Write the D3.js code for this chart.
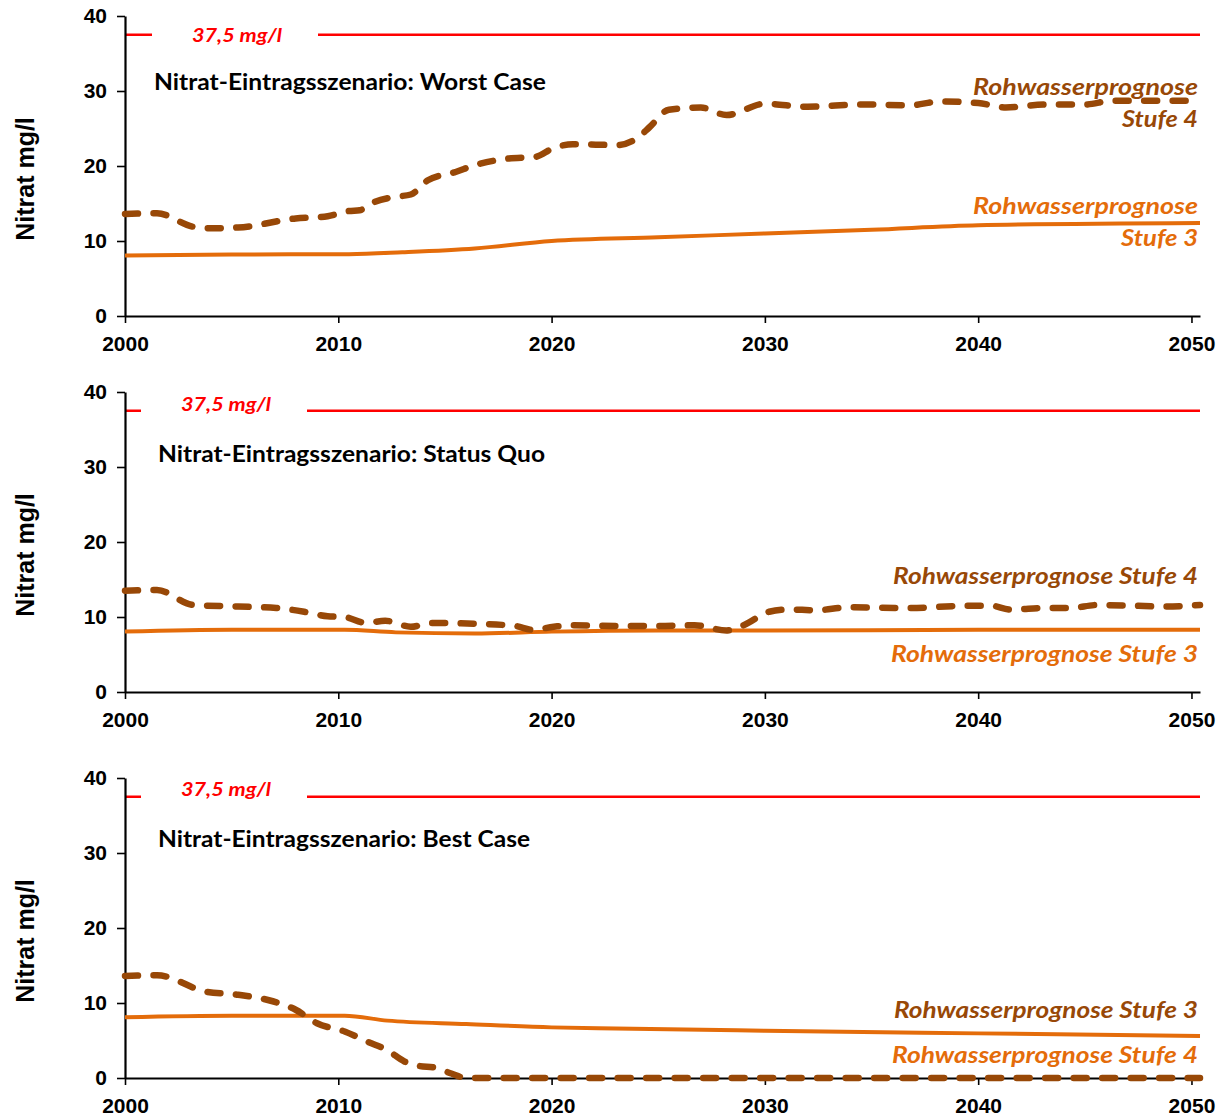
<!DOCTYPE html>
<html><head><meta charset="utf-8">
<script src="https://cdn.jsdelivr.net/npm/d3@7"></script>
<style>html,body{margin:0;padding:0;background:#fff}</style>
</head><body>
<svg id="c" width="1230" height="1120"></svg>
<script>
// ---- data ----
const xTicks = [2000, 2010, 2020, 2030, 2040, 2050];
const yTicks = [0, 10, 20, 30, 40];
const threshold = 37.5;
const thresholdLabel = "37,5 mg/l";
const yTitle = "Nitrat mg/l";
const panelTitles = ["Nitrat-Eintragsszenario: Worst Case", "Nitrat-Eintragsszenario: Status Quo", "Nitrat-Eintragsszenario: Best Case"];

const wcS4Years = [2000, 2001.5, 2003.2, 2004, 2005.3, 2008, 2009.5, 2010.5, 2011, 2011.7, 2012.7, 2013.4, 2014.2, 2015.5, 2016.4, 2018, 2019.2, 2020.1, 2021, 2023.1, 2024.1, 2024.6, 2025.5, 2027, 2028.2, 2030, 2032, 2034.6, 2036.8, 2038.2, 2040, 2041.3, 2043.2, 2045, 2046.3, 2050.4];
const wcS4Values = [13.6, 13.7, 11.9, 11.7, 11.8, 13.0, 13.3, 14.0, 14.1, 15.2, 15.9, 16.2, 18.1, 19.2, 20.1, 21.0, 21.2, 22.4, 22.9, 22.8, 23.9, 25.2, 27.5, 27.8, 26.8, 28.3, 27.9, 28.2, 28.1, 28.6, 28.4, 27.8, 28.2, 28.2, 28.7, 28.7];
const wcS3Years = [2000, 2005, 2010.5, 2013, 2016.4, 2020, 2025, 2030, 2035, 2040, 2050.4];
const wcS3Values = [8.05, 8.2, 8.25, 8.5, 9.0, 10.0, 10.5, 11.0, 11.5, 12.1, 12.4];

const sqS4Years = [2000, 2001.5, 2003.2, 2005.3, 2007.1, 2008.4, 2009.5, 2010.3, 2011.3, 2012.2, 2013.4, 2014.4, 2016.4, 2018.3, 2019.1, 2020.1, 2020.9, 2023.1, 2025, 2026.7, 2028.2, 2029, 2030.2, 2031.1, 2032.4, 2033.9, 2036.8, 2039.5, 2040.6, 2041.5, 2043.2, 2044.3, 2045.6, 2047.3, 2048.7, 2050.4];
const sqS4Values = [13.5, 13.6, 11.6, 11.4, 11.2, 10.7, 10.1, 10.0, 9.2, 9.5, 8.7, 9.2, 9.1, 8.8, 8.3, 8.7, 8.9, 8.8, 8.8, 8.9, 8.2, 8.9, 10.7, 11.0, 10.9, 11.3, 11.2, 11.5, 11.5, 11.0, 11.2, 11.2, 11.6, 11.5, 11.4, 11.6];
const sqS3Years = [2000, 2005, 2010.3, 2012.7, 2016.4, 2020, 2025, 2030, 2040, 2050.4];
const sqS3Values = [8.05, 8.3, 8.3, 7.95, 7.8, 8.05, 8.2, 8.2, 8.3, 8.3];

const bcS4Years = [2000, 2001.5, 2003.8, 2005.3, 2006.7, 2008, 2009, 2010.3, 2011.4, 2012.3, 2013.1, 2013.8, 2014.5, 2015.3, 2016, 2050.4];
const bcS4Values = [13.6, 13.7, 11.5, 11.1, 10.4, 9.1, 7.3, 6.2, 4.8, 3.7, 2.2, 1.6, 1.4, 0.6, 0, 0];
const bcS3Years = [2000, 2005, 2010.3, 2012.3, 2016, 2020, 2023, 2030, 2040, 2050.4];
const bcS3Values = [8.1, 8.3, 8.3, 7.65, 7.2, 6.75, 6.6, 6.3, 5.95, 5.6];

// ---- styles ----
const BROWN = "#984807", ORANGE = "#E46C0A", RED = "#FF0000";
const svg = d3.select("#c");
const x = d3.scaleLinear().domain([2000, 2050.4]).range([125, 1200]);
const sansBold = "'Liberation Sans', Arial, sans-serif";
const cal = "Lato, 'Open Sans', sans-serif";

const panels = [
  { top: 16, title: panelTitles[0], titleX: 154, titleBase: 90, titleW: 392,
    s4: [wcS4Years, wcS4Values], s3: [wcS3Years, wcS3Values],
    gap: [152, 318], thrLabelX: 192, thrLabelBase: 42,
    labels: [
      { t: "Rohwasserprognose", c: BROWN, y: 95, w: 225 },
      { t: "Stufe 4", c: BROWN, y: 127, w: 76 },
      { t: "Rohwasserprognose", c: ORANGE, y: 214, w: 225 },
      { t: "Stufe 3", c: ORANGE, y: 246, w: 77 } ] },
  { top: 392, title: panelTitles[1], titleX: 158, titleBase: 462, titleW: 387,
    s4: [sqS4Years, sqS4Values], s3: [sqS3Years, sqS3Values],
    gap: [141, 307], thrLabelX: 181, thrLabelBase: 411,
    labels: [
      { t: "Rohwasserprognose Stufe 4", c: BROWN, y: 584, w: 305 },
      { t: "Rohwasserprognose Stufe 3", c: ORANGE, y: 662, w: 307 } ] },
  { top: 778, title: panelTitles[2], titleX: 158, titleBase: 847, titleW: 372,
    s4: [bcS4Years, bcS4Values], s3: [bcS3Years, bcS3Values],
    gap: [141, 307], thrLabelX: 181, thrLabelBase: 796,
    labels: [
      { t: "Rohwasserprognose Stufe 3", c: BROWN, y: 1018, w: 304 },
      { t: "Rohwasserprognose Stufe 4", c: ORANGE, y: 1063, w: 306 } ] }
];

panels.forEach(p => {
  const y = d3.scaleLinear().domain([0, 40]).range([p.top + 300, p.top]);
  const g = svg.append("g");

  // threshold line with label gap
  g.append("line").attr("x1", x(2000)).attr("x2", x(2050.4))
    .attr("y1", y(threshold)).attr("y2", y(threshold))
    .attr("stroke", RED).attr("stroke-width", 2.5);
  g.append("rect").attr("x", p.gap[0]).attr("y", y(threshold) - 3)
    .attr("width", p.gap[1] - p.gap[0]).attr("height", 6).attr("fill", "#fff");
  g.append("text").attr("x", p.thrLabelX).attr("y", p.thrLabelBase)
    .attr("font-family", cal).attr("font-weight", "bold").attr("font-style", "italic")
    .attr("font-size", 19).attr("fill", RED)
    .attr("textLength", 90).attr("lengthAdjust", "spacingAndGlyphs")
    .text(thresholdLabel);

  // axes
  const ya = g.append("g").attr("transform", `translate(${x(2000)},0)`)
    .call(d3.axisLeft(y).tickValues(yTicks).tickSize(8).tickSizeOuter(0).tickPadding(10));
  const xa = g.append("g").attr("transform", `translate(0,${y(0)})`)
    .call(d3.axisBottom(x).tickValues(xTicks).tickSize(7).tickSizeOuter(0).tickPadding(13).tickFormat(d3.format("d")));
  [ya, xa].forEach(a => {
    a.select(".domain").attr("stroke", "#000").attr("stroke-width", 2.2);
    a.selectAll(".tick line").attr("stroke", "#000").attr("stroke-width", 1.6);
    a.selectAll(".tick text").attr("font-family", sansBold).attr("font-weight", "bold")
      .attr("font-size", 21).attr("fill", "#000");
  });
  xa.selectAll(".tick text").attr("dy", "0.71em");

  // y title
  g.append("text")
    .attr("transform", `translate(34,${p.top + 163}) rotate(-90)`)
    .attr("text-anchor", "middle").attr("font-family", sansBold).attr("font-weight", "bold")
    .attr("font-size", 25).attr("fill", "#000").text(yTitle);

  // panel title
  g.append("text").attr("x", p.titleX).attr("y", p.titleBase)
    .attr("font-family", cal).attr("font-weight", "bold").attr("font-size", 22).attr("fill", "#000")
    .attr("textLength", p.titleW).attr("lengthAdjust", "spacingAndGlyphs")
    .text(p.title);

  const line = d3.line().x(d => x(d[0])).y(d => y(d[1])).curve(d3.curveMonotoneX);
  const s3 = p.s3[0].map((yr, i) => [yr, p.s3[1][i]]);
  const s4 = p.s4[0].map((yr, i) => [yr, p.s4[1][i]]);

  g.append("path").attr("d", line(s3)).attr("fill", "none")
    .attr("stroke", ORANGE).attr("stroke-width", 4).attr("stroke-linejoin", "round");
  g.append("path").attr("d", line(s4)).attr("fill", "none")
    .attr("stroke", BROWN).attr("stroke-width", 6.5).attr("stroke-linecap", "round")
    .attr("stroke-linejoin", "round").attr("stroke-dasharray", "13,15.5");

  // series labels
  p.labels.forEach(l => {
    g.append("text").attr("x", 1198).attr("y", l.y).attr("text-anchor", "end")
      .attr("font-family", cal).attr("font-weight", "bold").attr("font-style", "italic")
      .attr("font-size", 22).attr("fill", l.c)
      .attr("textLength", l.w).attr("lengthAdjust", "spacingAndGlyphs")
      .text(l.t);
  });
});
</script>
</body></html>
